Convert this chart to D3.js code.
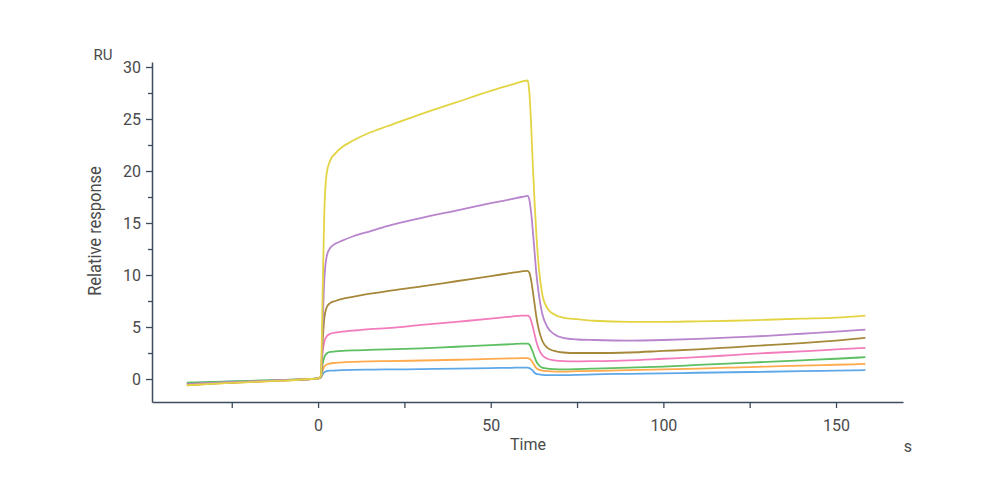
<!DOCTYPE html>
<html><head><meta charset="utf-8">
<script src="https://cdn.jsdelivr.net/npm/d3@7"></script>
<style>body{margin:0;background:#fff;} svg{display:block;}</style>
</head><body>
<svg id="c" width="1000" height="500"></svg>
<script>
const time = [-38,-30,-20,-10,-2,0,0.8,1.3,1.8,2.5,3.5,5,7,10,15,20,30,40,50,56,59,60.7,61.2,61.7,62.2,62.7,63.2,63.9,64.9,66.4,68.4,71,75,80,90,100,110,120,130,140,150,158.5];

const yellow = [-0.6,-0.45,-0.3,-0.15,0.0,0.05,0.3,8,16,19.8,21.0,21.7,22.3,22.9,23.7,24.3,25.5,26.6,27.7,28.3,28.6,28.7,27.5,24.5,20.5,17,14,10.8,8.2,6.8,6.2,5.9,5.75,5.6,5.5,5.5,5.55,5.6,5.7,5.8,5.9,6.1];
const purple = [-0.5,-0.38,-0.25,-0.12,0.0,0.05,0.3,5,9.5,11.8,12.6,13.0,13.3,13.7,14.2,14.7,15.5,16.2,16.9,17.3,17.5,17.6,17.2,16.0,14.2,12.2,10.2,8.2,6.3,5.0,4.3,3.95,3.8,3.75,3.7,3.75,3.85,4.0,4.15,4.35,4.55,4.75];
const brown = [-0.55,-0.42,-0.28,-0.13,0.0,0.05,0.3,3.5,5.8,6.9,7.3,7.5,7.7,7.9,8.2,8.45,8.9,9.4,9.9,10.2,10.35,10.4,10.2,9.5,8.4,7.2,6.0,4.8,3.7,3.0,2.7,2.55,2.5,2.5,2.55,2.7,2.85,3.05,3.25,3.45,3.7,3.95];
const pink = [-0.5,-0.38,-0.25,-0.12,0.0,0.05,0.25,2.5,3.6,4.1,4.35,4.45,4.55,4.65,4.8,4.9,5.2,5.5,5.8,6.0,6.1,6.1,6.0,5.6,5.0,4.3,3.6,2.9,2.3,1.95,1.8,1.72,1.7,1.72,1.8,1.95,2.1,2.3,2.5,2.65,2.85,3.0];
const green = [-0.35,-0.27,-0.18,-0.08,0.02,0.05,0.2,1.4,2.1,2.45,2.6,2.65,2.7,2.75,2.8,2.85,2.95,3.1,3.25,3.35,3.4,3.4,3.3,3.0,2.6,2.1,1.7,1.35,1.1,1.0,0.95,0.93,0.95,1.0,1.1,1.2,1.35,1.5,1.65,1.8,1.95,2.1];
const orange = [-0.6,-0.45,-0.3,-0.15,0.0,0.05,0.15,0.8,1.2,1.4,1.5,1.55,1.6,1.65,1.7,1.72,1.78,1.85,1.93,1.98,2.0,2.0,1.95,1.8,1.55,1.3,1.05,0.9,0.8,0.75,0.72,0.72,0.75,0.78,0.85,0.92,1.0,1.1,1.2,1.28,1.37,1.45];
const blue = [-0.4,-0.3,-0.2,-0.1,0.0,0.05,0.12,0.45,0.65,0.75,0.8,0.82,0.85,0.88,0.9,0.92,0.95,1.0,1.05,1.08,1.1,1.1,1.05,0.95,0.8,0.6,0.5,0.45,0.4,0.38,0.38,0.38,0.4,0.45,0.5,0.55,0.6,0.65,0.7,0.75,0.8,0.85];

const seriesNames = ["blue","orange","green","pink","brown","purple","yellow"];
const seriesValues = [blue, orange, green, pink, brown, purple, yellow];
const seriesColors = ["#5ea8e8","#ffaa4c","#5cbf62","#f27cbc","#a6883a","#b884cc","#e3d444"];

const yTickValues = [0,5,10,15,20,25,30];
const yMinorTicks = [2.5,7.5,12.5,17.5,22.5,27.5];
const xTickValues = [-25,0,25,50,75,100,125,150];
const xLabelValues = [0,50,100,150];

const svg = d3.select("#c");
const x = d3.scaleLinear().domain([-48.1, 169.4]).range([152, 903]);
const y = d3.scaleLinear().domain([-2.21, 30.48]).range([402, 62]);

const axisColor = "#3d4b5c";
const textColor = "#4a4a4a";
const font = "Roboto, 'Open Sans', sans-serif";

// lines
const line = d3.line().x(d => x(d[0])).y(d => y(d[1])).curve(d3.curveMonotoneX);
seriesValues.forEach((vals, i) => {
  svg.append("path")
    .datum(time.map((t, j) => [t, vals[j]]))
    .attr("fill", "none")
    .attr("stroke", seriesColors[i])
    .attr("stroke-width", 1.8)
    .attr("stroke-linejoin", "round")
    .attr("d", line);
});

// y axis
const yAxis = d3.axisLeft(y).tickValues(yTickValues).tickSize(6).tickSizeOuter(0).tickPadding(5);
const gy = svg.append("g").attr("transform", "translate(152,0)").call(yAxis);
const yMinor = d3.axisLeft(y).tickValues(yMinorTicks).tickSize(4).tickFormat("");
const gym = svg.append("g").attr("transform", "translate(152,0)").call(yMinor);
gym.select(".domain").remove();

// x axis
const xAxis = d3.axisBottom(x).tickValues(xTickValues).tickSize(6).tickSizeOuter(0).tickPadding(12)
  .tickFormat(d => xLabelValues.includes(d) ? d3.format("d")(d) : "");
const gx = svg.append("g").attr("transform", "translate(0,402)").call(xAxis);

[gy, gym, gx].forEach(g => {
  g.selectAll(".domain").attr("stroke", axisColor).attr("stroke-width", 1.5);
  g.selectAll(".tick line").attr("stroke", axisColor).attr("stroke-width", 1.3);
  g.selectAll(".tick text").attr("fill", textColor).style("font-family", font).style("font-size", "16px");
});

// axis titles
svg.append("text").attr("x", 103).attr("y", 60).attr("text-anchor", "middle")
  .attr("fill", textColor).style("font-family", font).style("font-size", "15px").text("RU");
svg.append("text").attr("transform", "translate(101,231) rotate(-90) scale(1,1.15)").attr("text-anchor", "middle")
  .attr("fill", textColor).style("font-family", font).style("font-size", "16.5px").text("Relative response");
svg.append("text").attr("x", 528).attr("y", 450).attr("text-anchor", "middle")
  .attr("fill", textColor).style("font-family", font).style("font-size", "16px").text("Time");
svg.append("text").attr("x", 908).attr("y", 452).attr("text-anchor", "middle")
  .attr("fill", textColor).style("font-family", font).style("font-size", "16px").text("s");
</script>
</body></html>
